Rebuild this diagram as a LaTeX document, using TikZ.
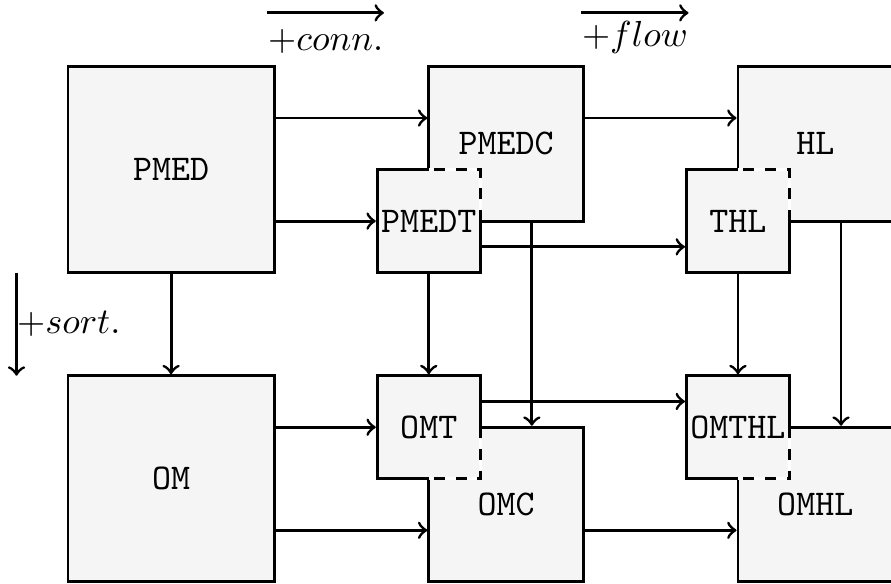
\documentclass[tikz,border=0pt]{standalone}
\usetikzlibrary{calc}
\begin{document}
\begin{tikzpicture}[x=0.5cm, y=-0.5cm,
  box/.style={draw, fill=black!4, thick, font=\ttfamily, inner sep=0pt},
  bigbox/.style={box, minimum size=2cm},
  midbox/.style={box, minimum size=1.5cm},
  smallbox/.style={box, minimum size=1cm},
  link/.style={thick, ->},
  erase/.style={white, thick},
  hidden/.style={thick, dashed},
  axislabel/.style={above, inner xsep=0pt}]
  \useasboundingbox (-1.32,-1.29) rectangle (15.97,10.025);

  % large and medium blocks
  \node[bigbox] (PMED)  at (2,2)       {PMED};
  \node[midbox] (PMEDC) at (8.5,1.5)   {PMEDC};
  \node[midbox] (HL)    at (14.5,1.5)  {HL};
  \node[bigbox] (OM)    at (2,8)       {OM};
  \node[midbox] (OMC)   at (8.5,8.5)   {OMC};
  \node[midbox] (OMHL)  at (14.5,8.5)  {OMHL};

  % small blocks lying over the medium ones
  \node[smallbox] (PMEDT) at (7,3)  {PMEDT};
  \node[smallbox] (THL)   at (13,3) {THL};
  \node[smallbox] (OMT)   at (7,7)  {OMT};
  \node[smallbox] (OMTHL) at (13,7) {OMTHL};

  % dashed borders where a small block covers a medium one
  \foreach \x in {8,14} {
    \draw[erase]  (\x,3) -- (\x,2) -- (\x-1,2);
    \draw[hidden] (\x,3) -- (\x,2) -- (\x-1,2);
    \draw[erase]  (\x,7) -- (\x,8) -- (\x-1,8);
    \draw[hidden] (\x,7) -- (\x,8) -- (\x-1,8);
  }

  % horizontal connectors
  \draw[link] (PMED.east |- 0,1)   -- (PMEDC.west |- 0,1);
  \draw[link] (PMED.east |- 0,3)   -- (PMEDT.west);
  \draw[link] (PMEDC.east |- 0,1)  -- (HL.west |- 0,1);
  \draw[link] (PMEDT.east |- 0,3.5) -- (THL.west |- 0,3.5);
  \draw[link] (OM.east |- 0,7)     -- (OMT.west);
  \draw[link] (OM.east |- 0,9)     -- (OMC.west |- 0,9);
  \draw[link] (OMT.east |- 0,6.5)  -- (OMTHL.west |- 0,6.5);
  \draw[link] (OMC.east |- 0,9)    -- (OMHL.west |- 0,9);

  % vertical connectors
  \draw[link] (PMED.south)        -- (OM.north);
  \draw[link] (PMEDT.south)       -- (OMT.north);
  \draw[link] (PMEDC.south -| 9,0) -- (OMC.north -| 9,0);
  \draw[link] (THL.south)         -- (OMTHL.north);
  \draw[link] (HL.south -| 15,0)  -- (OMHL.north -| 15,0);

  % direction labels with their arrows
  \node[axislabel] (conn) at (5,0)  {$+conn.$};
  \node[axislabel] (flow) at (11,0) {$+flow$};
  \draw[link] (conn.west |- 0,-1.04) -- (conn.east |- 0,-1.04);
  \draw[link] (flow.west |- 0,-1.04) -- (flow.east |- 0,-1.04);
  \coordinate (sortA) at (-1,4);
  \coordinate (sortB) at (-1,6);
  \draw[link] (sortA) -- (sortB);
  \node[right, inner sep=0pt] (sort) at (-1,5) {$+sort.$};
\end{tikzpicture}
\end{document}
